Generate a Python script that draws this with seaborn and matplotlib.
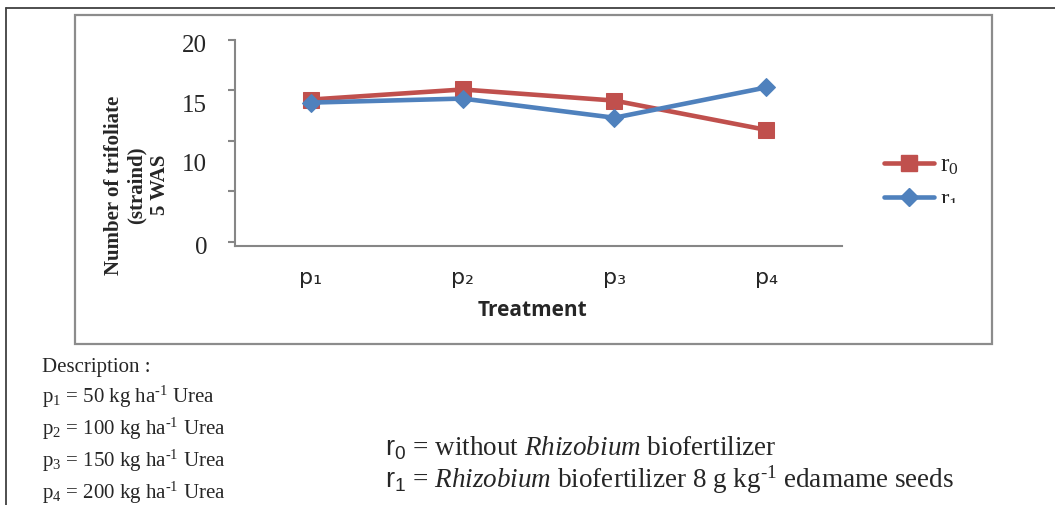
import pandas as pd
import matplotlib.pyplot as plt
import seaborn as sns
from matplotlib.patches import Rectangle
from matplotlib.lines import Line2D

# data
treatments = ['p₁', 'p₂', 'p₃', 'p₄']
r0_values = [14.1, 15.1, 14.0, 11.1]
r1_values = [13.8, 14.2, 12.3, 15.3]
series_names = ['r0', 'r1']
legend_labels = ['r$_0$', 'r$_1$']

y_ticks = [0, 5, 10, 15, 20]
y_tick_labels = ['0', '10', '15', '20']
y_tick_label_pos = [-0.4, 7.9, 13.7, 19.7]  # labels sit a bit off the ticks in the original

description = ['Description :',
               r'p$_1$ = 50 kg ha$^{\text{-1}}$ Urea',
               r'p$_2$ = 100 kg ha$^{\text{-1}}$ Urea',
               r'p$_3$ = 150 kg ha$^{\text{-1}}$ Urea',
               r'p$_4$ = 200 kg ha$^{\text{-1}}$ Urea']
notes = [r'$\mathsf{r_0}$ = without $\mathit{Rhizobium}$ biofertilizer',
         r'$\mathsf{r_1}$ = $\mathit{Rhizobium}$ biofertilizer 8 g kg$^{\text{-1}}$ edamame seeds']

df = pd.DataFrame({
    'treatment': treatments * 2,
    'value': r0_values + r1_values,
    'series': [series_names[0]] * 4 + [series_names[1]] * 4,
})

sns.set_style('white')
plt.rcParams['font.family'] = ['Liberation Serif', 'DejaVu Sans']
plt.rcParams['mathtext.fontset'] = 'custom'
plt.rcParams['mathtext.rm'] = 'Liberation Serif'
plt.rcParams['mathtext.it'] = 'Liberation Serif:italic'
plt.rcParams['mathtext.sf'] = 'Liberation Sans'

W, H = 1055, 505
fig = plt.figure(figsize=(W / 100, H / 100), dpi=100)
ax = fig.add_axes([235 / W, 1 - 246 / H, 607 / W, 206 / H])

palette = {'r0': '#C0504D', 'r1': '#4F81BD'}
sns.lineplot(data=df, x='treatment', y='value', hue='series', style='series',
             markers={'r0': 's', 'r1': 'D'}, dashes=False, palette=palette,
             linewidth=3.3, markersize=11, legend=False, ax=ax)
for ln in ax.lines:
    ln.set_markeredgecolor(ln.get_color())
ax.lines[1].set_markersize(9.5)

ax.set_xlim(-0.5, 3.5)
ax.set_ylim(0, 20)
ax.set_yticks(y_ticks)
ax.set_yticklabels([''] * len(y_ticks))
ax.set_yticks(y_tick_label_pos, minor=True)
ax.set_yticklabels(y_tick_labels, minor=True, fontsize=18)
ax.tick_params(axis='y', which='major', length=5, width=1.5, color='#868686', direction='out', left=True)
ax.tick_params(axis='y', which='minor', length=0, pad=20)
ax.tick_params(axis='x', length=0, pad=16, labelsize=16)
for lab in ax.get_xticklabels():
    lab.set_fontfamily('DejaVu Sans')
ax.set_xlabel('')
ax.set_ylabel('')
for s in ['top', 'right']:
    ax.spines[s].set_visible(False)
for s in ['left', 'bottom']:
    ax.spines[s].set_color('#868686')
    ax.spines[s].set_linewidth(1.5)

fig.text(137 / W, 1 - 185 / H, 'Number of trifoliate\n(straind)\n5 WAS', rotation=90,
         ha='center', va='center', multialignment='center', fontsize=15,
         fontweight='bold', linespacing=1.2)
fig.text(533 / W, 1 - 310 / H, 'Treatment', ha='center', va='center',
         fontsize=15, fontweight='bold', family='Open Sans')

handles = [Line2D([], [], color=palette['r0'], lw=3.3, marker='s', ms=11, mec=palette['r0']),
           Line2D([], [], color=palette['r1'], lw=3.3, marker='D', ms=9.5, mec=palette['r1'])]
ax.legend(handles, legend_labels, loc='center left', bbox_to_anchor=(884 / W, 1 - 183 / H),
          bbox_transform=fig.transFigure, frameon=False, fontsize=18,
          handlelength=2.0, handletextpad=0.25, labelspacing=0.45, borderpad=0, borderaxespad=0)

# white patches that cut off parts of labels like in the original
fig.patches.append(Rectangle((936 / W, 1 - 228 / H), 54 / W, 25 / H, transform=fig.transFigure,
                             facecolor='white', edgecolor='none', zorder=10))
fig.patches.append(Rectangle((250 / W, 1 - 297 / H), 560 / W, 8 / H, transform=fig.transFigure,
                             facecolor='white', edgecolor='none', zorder=10))

# chart frame and page frame
fig.patches.append(Rectangle((75 / W, 1 - 344 / H), 917 / W, 329 / H, transform=fig.transFigure,
                             facecolor='none', edgecolor='#8c8c8c', lw=1.6, zorder=11))
fig.lines.append(Line2D([6 / W, 1], [1 - 8 / H] * 2, transform=fig.transFigure, color='#404040', lw=1.3))
fig.lines.append(Line2D([6 / W] * 2, [0, 1 - 8 / H], transform=fig.transFigure, color='#404040', lw=1.3))

desc_y = [372, 403, 435, 467, 499]
for txt, yy in zip(description, desc_y):
    fig.text(42 / W, 1 - yy / H, txt, ha='left', va='baseline', fontsize=15)

notes_y = [455, 488]
for txt, yy in zip(notes, notes_y):
    fig.text(385 / W, 1 - yy / H, txt, ha='left', va='baseline', fontsize=19.5)

fig.savefig('out.png', dpi=100)
plt.close()
